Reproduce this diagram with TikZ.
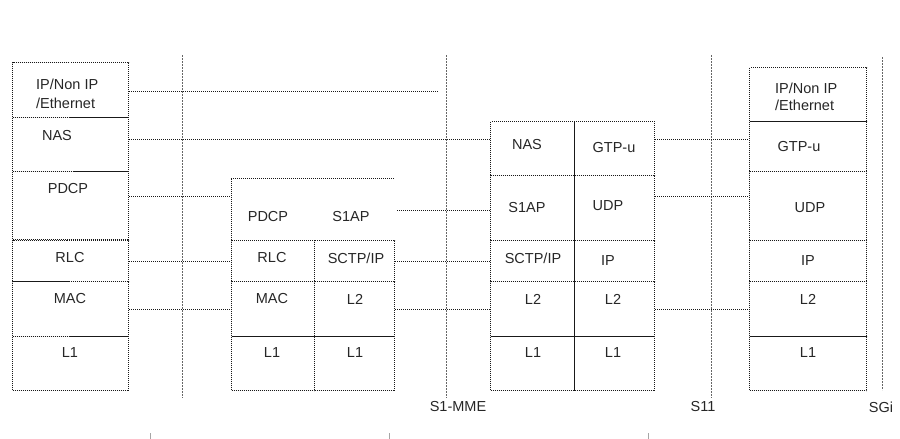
\documentclass[tikz,border=0pt]{standalone}
\usepackage{fontspec}
\setmainfont{Liberation Sans}
\begin{document}
\begin{tikzpicture}[x=1pt,y=-1pt,
  cell/.style={draw=black!90, densely dotted, line width=1pt, inner sep=0pt, anchor=north west},
  txt/.style={font=\fontsize{14.5}{15}\selectfont, text=black!85, inner sep=0pt},
  ltxt/.style={txt, anchor=west},
  conn/.style={draw=black!90, densely dotted, line width=1pt},
  sep/.style={draw=black!60, dash pattern=on 2pt off 1pt, line width=0.9pt},
  tick/.style={draw=black!35, line width=0.6pt}]
\useasboundingbox (0,0) rectangle (900,439);
% helper: cell
\newcommand{\mycell}[5]{\node[cell, minimum width={(#4-#2)*1pt}, minimum height={(#5-#3)*1pt}] (#1) at (#2,#3) {};}
% vertical separators
\coordinate (s1t) at (182,55); \coordinate (s1b) at (182,398);
\coordinate (s2t) at (446,55); \coordinate (s2b) at (446,398);
\coordinate (s3t) at (711,55); \coordinate (s3b) at (711,398);
\coordinate (s4t) at (882,57); \coordinate (s4b) at (882,390);
\draw[sep] (s1t) -- (s1b);
\draw[sep] (s2t) -- (s2b);
\draw[sep] (s3t) -- (s3b);
\draw[sep] (s4t) -- (s4b);
% UE stack
\mycell{ueIP}{12}{62}{128}{117}
\mycell{ueNAS}{12}{117}{128}{171}
\mycell{uePDCP}{12}{171}{128}{239}
\mycell{ueRLC}{12}{240}{128}{281}
\mycell{ueMAC}{12}{281}{128}{336}
\mycell{ueLI}{12}{336}{128}{390}
\node[ltxt] at (36,84) {IP/Non IP};
\node[ltxt] at (36,103) {/Ethernet};
\node[txt] at (57,136) {NAS};
\node[txt] at (68,189) {PDCP};
\node[txt] at (70,258) {RLC};
\node[txt] at (70,299) {MAC};
\node[txt] at (70,353) {L1};
% eNB stack
\coordinate (enbTL) at (231,178); \coordinate (enbTR) at (394,178); \coordinate (enbBL) at (231,240);
\draw[cell] (enbBL) -- (enbTL) -- (enbTR);
\node[txt] at (268,217) {PDCP};
\node[txt] at (351,217) {S1AP};
\mycell{enbRLC}{231}{240}{314}{281}
\mycell{enbSCTP}{314}{240}{394}{281}
\mycell{enbMAC}{231}{281}{314}{336}
\mycell{enbLII}{314}{281}{394}{336}
\mycell{enbLIa}{231}{336}{314}{390}
\mycell{enbLIb}{314}{336}{394}{390}
\node[txt] at (272,258) {RLC};
\node[txt] at (356,258) {SCTP/IP};
\node[txt] at (272,299) {MAC};
\node[txt] at (355,299) {L2};
\node[txt] at (272,353) {L1};
\node[txt] at (355,353) {L1};
% MME stack
\mycell{mmeNAS}{490}{121}{574}{175}
\mycell{mmeGTP}{574}{121}{654}{175}
\mycell{mmeSAP}{490}{175}{574}{240}
\mycell{mmeUDP}{574}{175}{654}{240}
\mycell{mmeSCTP}{490}{240}{574}{281}
\mycell{mmeIP}{574}{240}{654}{281}
\mycell{mmeLIIa}{490}{281}{574}{336}
\mycell{mmeLIIb}{574}{281}{654}{336}
\mycell{mmeLIa}{490}{336}{574}{390}
\mycell{mmeLIb}{574}{336}{654}{390}
\node[txt] at (527,145) {NAS};
\node[txt] at (614,148) {GTP-u};
\node[txt] at (527,208) {S1AP};
\node[txt] at (608,206) {UDP};
\node[txt] at (533,258) {SCTP/IP};
\node[txt] at (608,261) {IP};
\node[txt] at (533,299) {L2};
\node[txt] at (613,299) {L2};
\node[txt] at (533,353) {L1};
\node[txt] at (613,353) {L1};
% SGW stack
\mycell{gwIP}{749}{67}{866}{121}
\mycell{gwGTP}{749}{121}{866}{171}
\mycell{gwUDP}{749}{171}{866}{240}
\mycell{gwIPb}{749}{240}{866}{281}
\mycell{gwLII}{749}{281}{866}{336}
\mycell{gwLI}{749}{336}{866}{390}
\node[ltxt] at (775,88) {IP/Non IP};
\node[ltxt] at (775,105) {/Ethernet};
\node[txt] at (799,147) {GTP-u};
\node[txt] at (810,208) {UDP};
\node[txt] at (808,261) {IP};
\node[txt] at (808,299) {L2};
\node[txt] at (808,353) {L1};
% connectors
\coordinate (ipEnd) at (438,91);
\coordinate (sapStart) at (397,210);
\draw[conn] (ueIP.east |- 0,91) -- (ipEnd);
\draw[conn] (ueNAS.east |- 0,139) -- (mmeNAS.west |- 0,139);
\draw[conn] (uePDCP.east |- 0,196) -- (enbBL |- 0,196);
\draw[conn] (sapStart) -- (mmeSAP.west |- 0,210);
\draw[conn] (ueRLC.east |- 0,261) -- (enbRLC.west |- 0,261);
\draw[conn] (enbSCTP.east |- 0,261) -- (mmeSCTP.west |- 0,261);
\draw[conn] (ueMAC.east |- 0,309) -- (enbMAC.west |- 0,309);
\draw[conn] (enbLII.east |- 0,309) -- (mmeLIIa.west |- 0,309);
\draw[conn] (mmeGTP.east |- 0,139) -- (gwGTP.west |- 0,139);
\draw[conn] (mmeUDP.east |- 0,196) -- (gwUDP.west |- 0,196);
\draw[conn] (mmeLIIb.east |- 0,309) -- (gwLII.west |- 0,309);
% interface labels
\node[txt] (lS1) at (458,407) {S1-MME};
\node[txt] (lS11) at (703,407) {S11};
\node[txt] (lSGi) at (881,407) {SGi};
% small ticks at the bottom edge
\draw[tick] (150,433) -- (150,439);
\draw[tick] (389,433) -- (389,439);
\draw[tick] (648,433) -- (648,439);
\end{tikzpicture}
\end{document}
